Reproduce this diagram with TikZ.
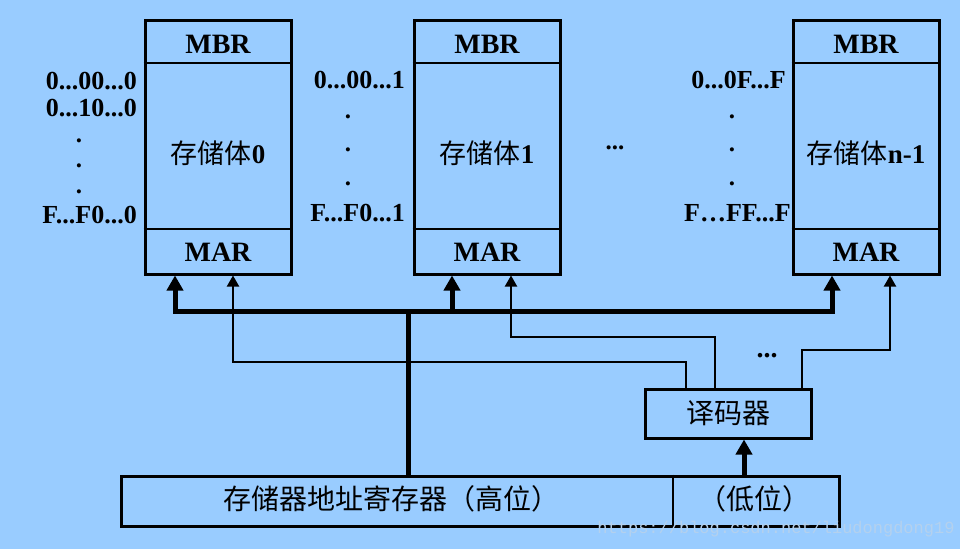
\documentclass[tikz,border=0pt]{standalone}
\usepackage{fontspec}
\setmainfont{Liberation Serif}
\newfontfamily\cjk{Noto Sans CJK SC}
\newfontfamily\wmfont{Liberation Mono}
\usetikzlibrary{arrows.meta}
\definecolor{bg}{RGB}{153,204,255}
\definecolor{wm}{RGB}{180,209,238}
\begin{document}
\begin{tikzpicture}[x=1pt,y=-1pt,
  mem/.style={draw,line width=3pt,minimum width=146pt,minimum height=254pt,inner sep=0pt},
  div/.style={line width=2pt},
  boxn/.style={draw,line width=3pt,inner sep=0pt},
  lat/.style={font=\fontsize{28}{28}\selectfont\bfseries,inner sep=0pt},
  addr/.style={font=\fontsize{26}{26}\selectfont\bfseries,inner sep=0pt,anchor=east},
  dotn/.style={font=\fontsize{25}{25}\selectfont\bfseries,inner sep=0pt},
  zh/.style={font=\fontsize{27}{27}\selectfont\cjk,inner sep=0pt},
  bus/.style={line width=5pt},
  busarrow/.style={line width=5pt,-{Triangle[width=16pt,length=15pt]}},
  thinline/.style={line width=2pt},
  thinarrow/.style={line width=2pt,-{Triangle[width=12pt,length=11pt]}},
]
\fill[bg] (0,0) rectangle (960,549);
\useasboundingbox (0,0) rectangle (960,549);

% memory banks
\node[mem] (m0) at (218,147) {};
\node[mem] (m1) at (487,147) {};
\node[mem] (m2) at (866,147) {};
\foreach \m in {m0,m1,m2}{
  \draw[div] (\m.west |- 0,63) -- (\m.east |- 0,63);
  \draw[div] (\m.west |- 0,229) -- (\m.east |- 0,229);
}
\node[lat] (mbr0) at (218,44) {MBR};
\node[lat] (mbr1) at (487,44) {MBR};
\node[lat] (mbr2) at (866,44) {MBR};
\node[lat] (mar0) at (218,252) {MAR};
\node[lat] (mar1) at (487,252) {MAR};
\node[lat] (mar2) at (866,252) {MAR};
\node[zh] (s0) at (218,153) {存储体{\rmfamily\bfseries 0}};
\node[zh] (s1) at (487,153) {存储体{\rmfamily\bfseries 1}};
\node[zh] (s2) at (866,153) {存储体{\rmfamily\bfseries n-1}};

% address labels
\node[addr] (a00) at (137,81) {0...00...0};
\node[addr] (a01) at (137,108) {0...10...0};
\node[dotn] (d00) at (79,141) {.};
\node[dotn] (d01) at (79,166) {.};
\node[dotn] (d02) at (79,192) {.};
\node[addr] (a02) at (137,215) {F...F0...0};

\node[addr] (a10) at (405,80) {0...00...1};
\node[dotn] (d10) at (348,117) {.};
\node[dotn] (d11) at (348,150) {.};
\node[dotn] (d12) at (348,184) {.};
\node[addr] (a12) at (405,213) {F...F0...1};

\node[addr] (a20) at (786,80) {0...0F...F};
\node[dotn] (d20) at (732,117) {.};
\node[dotn] (d21) at (732,150) {.};
\node[dotn] (d22) at (732,184) {.};
\node[addr] (a22) at (791,213) {F…FF...F};

\node[dotn] (ell1) at (615,148) {...};
\node[dotn,font=\fontsize{28}{28}\selectfont\bfseries] (ell2) at (767,356) {...};

% registers
\node[boxn,minimum width=718pt,minimum height=50pt] (reg) at (480,501) {};
\draw[thinline] (reg.north -| 673,0) -- (reg.south -| 673,0);
\node[zh,font=\fontsize{28}{28}\selectfont\cjk] (hi) at (391,499) {存储器地址寄存器（高位）};
\node[zh,font=\fontsize{28}{28}\selectfont\cjk] (lo) at (754,499) {（低位）};

\node[boxn,minimum width=166pt,minimum height=49pt] (dec) at (728,413.5) {};
\node[zh,font=\fontsize{28}{28}\selectfont\cjk] (dect) at (728,413) {译码器};

% bus
\coordinate (b0) at (175,311);
\coordinate (b1) at (452,311);
\coordinate (b2) at (832,311);
\coordinate (bj) at (408,311);
\coordinate (dx) at (744,450);
\draw[bus,line cap=rect] (b0) -- (b2);
\draw[busarrow] (b0) -- (b0 |- m0.south);
\draw[busarrow] (b1) -- (b1 |- m1.south);
\draw[busarrow] (b2) -- (b2 |- m2.south);
\draw[bus] (bj) -- (bj |- reg.north);
\draw[busarrow] (dx |- reg.north) -- (dx |- dec.south);

% decoder outputs
\coordinate (c0) at (233,362); \coordinate (e0) at (686,362);
\coordinate (c1) at (511,337); \coordinate (e1) at (715,337);
\coordinate (c2) at (890,350); \coordinate (e2) at (802,350);
\draw[thinarrow] (e0 |- dec.north) -- (e0) -- (c0) -- (c0 |- m0.south);
\draw[thinarrow] (e1 |- dec.north) -- (e1) -- (c1) -- (c1 |- m1.south);
\draw[thinarrow] (e2 |- dec.north) -- (e2) -- (c2) -- (c2 |- m2.south);

% watermark
\node[inner sep=0pt,text=wm,font=\fontsize{17}{17}\selectfont\wmfont] (wmk) at (776,529) {https://blog.csdn.net/liudongdong19};
\end{tikzpicture}
\end{document}
